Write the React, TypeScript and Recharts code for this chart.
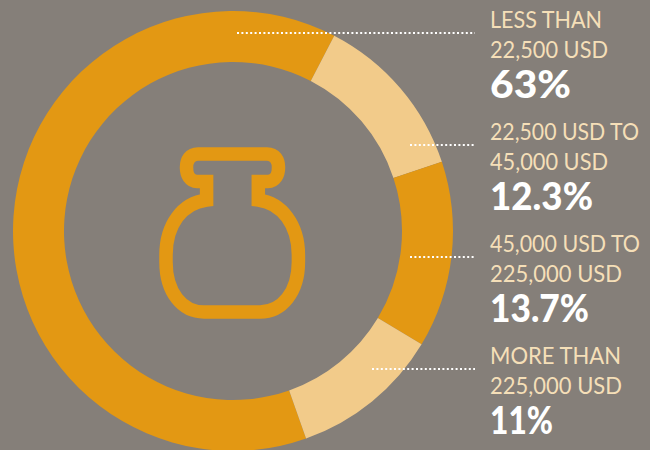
import React from "react";
import { PieChart, Pie, Cell } from "recharts";

const shares = [63, 12.3, 13.7, 11];
const shareLabels = ["63%", "12.3%", "13.7%", "11%"];
const firstLines = ["LESS THAN", "22,500 USD TO", "45,000 USD TO", "MORE THAN"];
const secondLines = ["22,500 USD", "45,000 USD", "225,000 USD", "225,000 USD"];
const leaderStarts = [237, 410, 410, 372];

// the original face is narrower than Lato, so widths are pinned to the picture
const firstWidths = [112, 149, 150, 131];
const secondWidths = [118, 118, 132, 132];
const shareWidths = [81, 103, 99, 63];

const sliceColors = ["#e39813", "#f2cb8a", "#e39813", "#f2cb8a"];
const font = "Lato, sans-serif";

const chartData = shares.map((value, i) => ({ name: firstLines[i], value }));

export default function App() {
  return (
    <div style={{ position: "absolute", left: 0, top: 0, width: 650, height: 450, background: "#857f79", overflow: "hidden" }}>
      <PieChart width={650} height={450} margin={{ top: 0, right: 0, bottom: 0, left: 0 }}>
        <Pie
          data={chartData}
          dataKey="value"
          cx={233}
          cy={231}
          innerRadius={169}
          outerRadius={220}
          startAngle={-70.6}
          endAngle={-430.6}
          stroke="none"
          isAnimationActive={false}
        >
          {chartData.map((d, i) => (
            <Cell key={d.name} fill={sliceColors[i]} />
          ))}
        </Pie>
      </PieChart>
      <svg width={650} height={450} style={{ position: "absolute", left: 0, top: 0 }}>
        {/* flask icon */}
        <path
          d="M206.6 181.5 H197 C190 181.5 186.5 175 186.5 167.5 C186.5 160 190 154 198 154 H267 C275 154 278.5 160 278.5 167.5 C278.5 175 275 181.5 268 181.5 H258.3 V200 C282 203 298.4 225 298.4 255 V262 C298.4 292 282 312 260 312 H204 C182 312 166 292 166 262 V255 C166 225 182 203 206.6 200 Z"
          fill="none"
          stroke="#e39813"
          strokeWidth={13.5}
        />
        {shareLabels.map((label, i) => {
          const top = Math.round(i * 111.9);
          return (
            <g key={label} fontFamily={font}>
              <line x1={leaderStarts[i]} x2={475} y1={33 + top} y2={33 + top} stroke="#fff" strokeWidth={2} strokeDasharray="2 2.4" />
              <text x={490} y={28 + top} fontSize={22.8} fill="#f5dfb8" textLength={firstWidths[i]} lengthAdjust="spacingAndGlyphs">{firstLines[i]}</text>
              <text x={490} y={58 + top} fontSize={22.8} fill="#f5dfb8" textLength={secondWidths[i]} lengthAdjust="spacingAndGlyphs">{secondLines[i]}</text>
              <text x={490} y={98 + top} fontSize={38} fontWeight={900} fill="#fff" textLength={shareWidths[i]} lengthAdjust="spacingAndGlyphs">{label}</text>
            </g>
          );
        })}
      </svg>
    </div>
  );
}
